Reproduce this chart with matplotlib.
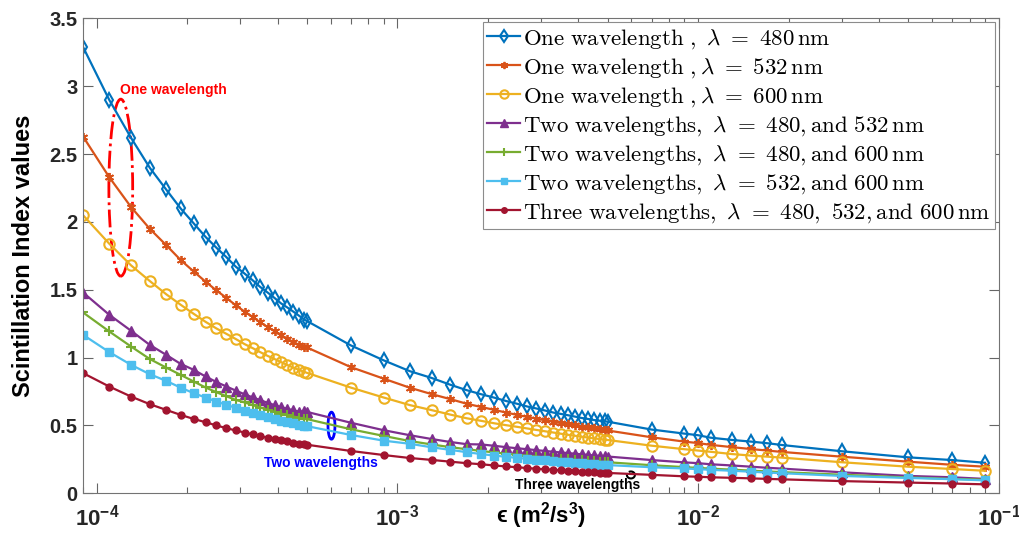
import numpy as np
import matplotlib.pyplot as plt
from matplotlib.patches import Ellipse, Arc

# dissipation rate epsilon (m^2/s^3)
eps = [9e-5, 1.1e-4, 1.3e-4, 1.5e-4, 1.7e-4, 1.9e-4, 2.1e-4, 2.3e-4, 2.5e-4, 2.7e-4,
       2.9e-4, 3.1e-4, 3.3e-4, 3.5e-4, 3.7e-4, 3.9e-4, 4.1e-4, 4.3e-4, 4.5e-4, 4.7e-4, 4.9e-4,
       5e-4, 7e-4, 9e-4, 1.1e-3, 1.3e-3, 1.5e-3, 1.7e-3, 1.9e-3, 2.1e-3, 2.3e-3,
       2.5e-3, 2.7e-3, 2.9e-3, 3.1e-3, 3.3e-3, 3.5e-3, 3.7e-3, 3.9e-3, 4.1e-3, 4.3e-3,
       4.5e-3, 4.7e-3, 4.9e-3,
       5e-3, 7e-3, 9e-3, 1e-2, 1.1e-2, 1.3e-2, 1.5e-2, 1.7e-2, 1.9e-2, 3e-2, 5e-2, 7e-2, 9e-2]

si_480 = [3.29, 2.90, 2.62, 2.40, 2.24, 2.10, 1.99, 1.89, 1.81, 1.74,
          1.67, 1.62, 1.57, 1.52, 1.48, 1.44, 1.40, 1.37, 1.34, 1.31, 1.28,
          1.27, 1.09, 0.98, 0.90, 0.85, 0.80, 0.76, 0.73, 0.705, 0.68,
          0.66, 0.64, 0.625, 0.61, 0.595, 0.585, 0.575, 0.565, 0.555, 0.548,
          0.54, 0.535, 0.53,
          0.528, 0.47, 0.44, 0.428, 0.41, 0.393, 0.381, 0.369, 0.356, 0.31, 0.265, 0.245, 0.225]

si_532 = [2.63, 2.33, 2.11, 1.95, 1.83, 1.72, 1.635, 1.56, 1.495, 1.44,
          1.385, 1.34, 1.30, 1.26, 1.225, 1.195, 1.165, 1.14, 1.115, 1.095, 1.08,
          1.075, 0.93, 0.845, 0.778, 0.731, 0.694, 0.66, 0.636, 0.615, 0.595,
          0.578, 0.563, 0.55, 0.538, 0.527, 0.517, 0.508, 0.50, 0.492, 0.485,
          0.478, 0.472, 0.466,
          0.463, 0.413, 0.381, 0.37, 0.357, 0.34, 0.326, 0.315, 0.305, 0.27, 0.233, 0.21, 0.196]

si_600 = [2.05, 1.84, 1.68, 1.565, 1.468, 1.39, 1.323, 1.264, 1.215, 1.175,
          1.137, 1.10, 1.07, 1.04, 1.013, 0.99, 0.967, 0.946, 0.927, 0.91, 0.895,
          0.888, 0.779, 0.706, 0.65, 0.613, 0.58, 0.553, 0.534, 0.516, 0.502,
          0.49, 0.478, 0.467, 0.457, 0.448, 0.439, 0.431, 0.424, 0.417, 0.411,
          0.405, 0.40, 0.395,
          0.393, 0.351, 0.325, 0.315, 0.306, 0.289, 0.278, 0.27, 0.263, 0.229, 0.196, 0.179, 0.166]

si_480_532 = [1.48, 1.316, 1.198, 1.094, 1.021, 0.954, 0.91, 0.861, 0.82, 0.787,
              0.757, 0.73, 0.707, 0.686, 0.667, 0.65, 0.635, 0.623, 0.612, 0.602, 0.605,
              0.60, 0.52, 0.465, 0.428, 0.40, 0.378, 0.362, 0.36, 0.35, 0.34,
              0.332, 0.325, 0.318, 0.312, 0.306, 0.301, 0.296, 0.292, 0.287, 0.283,
              0.279, 0.276, 0.273,
              0.271, 0.245, 0.228, 0.222, 0.214, 0.205, 0.196, 0.188, 0.182, 0.155, 0.128, 0.118, 0.106]

si_480_600 = [1.333, 1.193, 1.082, 0.99, 0.927, 0.873, 0.824, 0.78, 0.745, 0.715,
              0.688, 0.67, 0.65, 0.632, 0.616, 0.601, 0.588, 0.576, 0.566, 0.557, 0.55,
              0.547, 0.472, 0.423, 0.385, 0.36, 0.34, 0.325, 0.312, 0.301, 0.292,
              0.284, 0.277, 0.27, 0.264, 0.259, 0.254, 0.25, 0.246, 0.242, 0.239,
              0.236, 0.233, 0.23,
              0.229, 0.207, 0.193, 0.187, 0.182, 0.174, 0.167, 0.161, 0.156, 0.137, 0.117, 0.106, 0.10]

si_532_600 = [1.168, 1.041, 0.947, 0.878, 0.829, 0.779, 0.738, 0.706, 0.676, 0.652,
              0.63, 0.61, 0.592, 0.576, 0.561, 0.548, 0.536, 0.525, 0.515, 0.506, 0.499,
              0.495, 0.43, 0.388, 0.365, 0.339, 0.32, 0.303, 0.289, 0.278, 0.269,
              0.261, 0.254, 0.248, 0.242, 0.237, 0.232, 0.228, 0.224, 0.22, 0.217,
              0.214, 0.211, 0.209,
              0.208, 0.192, 0.183, 0.178, 0.173, 0.166, 0.159, 0.153, 0.148, 0.128, 0.113, 0.104, 0.095]

si_three = [0.886, 0.787, 0.713, 0.657, 0.615, 0.578, 0.548, 0.524, 0.50, 0.48,
            0.463, 0.448, 0.434, 0.421, 0.41, 0.399, 0.39, 0.382, 0.374, 0.367, 0.362,
            0.358, 0.312, 0.282, 0.26, 0.246, 0.233, 0.222, 0.214, 0.205, 0.198,
            0.192, 0.186, 0.181, 0.177, 0.173, 0.169, 0.166, 0.163, 0.16, 0.157,
            0.155, 0.153, 0.151,
            0.15, 0.136, 0.125, 0.122, 0.118, 0.114, 0.11, 0.106, 0.103, 0.09, 0.079, 0.072, 0.066]

labels = [r'$\mathrm{One\ wavelength\ ,\ }\lambda\ =\ 480\,\mathrm{nm}$',
          r'$\mathrm{One\ wavelength\ ,}\lambda\ =\ 532\,\mathrm{nm}$',
          r'$\mathrm{One\ wavelength\ ,}\lambda\ =\ 600\,\mathrm{nm}$',
          r'$\mathrm{Two\ wavelengths,\ }\lambda\ =\ 480,\mathrm{and\ }532\,\mathrm{nm}$',
          r'$\mathrm{Two\ wavelengths,\ }\lambda\ =\ 480,\mathrm{and\ }600\,\mathrm{nm}$',
          r'$\mathrm{Two\ wavelengths,\ }\lambda\ =\ 532,\mathrm{and\ }600\,\mathrm{nm}$',
          r'$\mathrm{Three\ wavelengths,\ }\lambda\ =\ 480,\ 532,\mathrm{and\ }600\,\mathrm{nm}$']

plt.rcParams['font.family'] = ['Liberation Sans', 'DejaVu Sans']
plt.rcParams['mathtext.fontset'] = 'custom'
plt.rcParams['mathtext.rm'] = 'Liberation Sans:bold'
plt.rcParams['mathtext.it'] = 'Liberation Sans:italic:bold'
plt.rcParams['mathtext.bf'] = 'Liberation Sans:bold'
plt.rcParams['mathtext.default'] = 'rm'

fig = plt.figure(figsize=(10.19, 5.33), dpi=100)
ax = fig.add_axes([0.0815, 0.0745, 0.8986, 0.8908])

lw = 1.6
ax.plot(eps, si_480, '-d', color='#0072BD', lw=lw, ms=7.5, mfc='none', mew=1.5, label=labels[0])
ax.plot(eps, si_532, '-', marker=(6, 2, 0), color='#D95319', lw=lw, ms=6.5, mew=1.3, label=labels[1])
ax.plot(eps, si_600, '-o', color='#EDB120', lw=lw, ms=7.5, mfc='none', mew=1.5, label=labels[2])
ax.plot(eps, si_480_532, '-^', color='#7E2F8E', lw=lw, ms=7.5, label=labels[3])
ax.plot(eps, si_480_600, '-+', color='#77AC30', lw=lw, ms=7, mew=1.5, label=labels[4])
ax.plot(eps, si_532_600, '-s', color='#4DBEEE', lw=lw, ms=6, label=labels[5])
ax.plot(eps, si_three, '-o', color='#A2142F', lw=lw, ms=5, label=labels[6])

ax.set_xscale('log')
ax.set_xlim(9e-5, 1e-1)
ax.set_ylim(0, 3.5)
ax.set_yticks([0, 0.5, 1, 1.5, 2, 2.5, 3, 3.5])
ax.set_yticklabels(['0', '0.5', '1', '1.5', '2', '2.5', '3', '3.5'], fontsize=14.5, fontweight='bold')
ax.set_xticks([1e-4, 1e-3, 1e-2, 1e-1])
ax.set_xticklabels([r'$10^{-4}$', r'$10^{-3}$', r'$10^{-2}$', r'$10^{-1}$'], fontsize=16)
ax.tick_params(which='both', direction='in', top=True, right=True, colors='0.4',
               labelcolor='#262626')
ax.tick_params(which='major', length=7, width=0.8, pad=8)
ax.tick_params(which='minor', length=4, width=0.8)
ax.tick_params(axis='y', pad=4)
for s in ax.spines.values():
    s.set_color('0.45')
    s.set_linewidth(0.8)

ax.set_ylabel('Scintillation Index values', fontsize=17, fontweight='bold')
ax.yaxis.set_label_coords(-0.053, 0.5)
ax.set_xlabel('ϵ (m$^2$/s$^3$)', fontsize=16, fontweight='bold', va='center')
ax.xaxis.set_label_coords(0.5, -0.046)

leg = ax.legend(loc='upper right', prop={'size': 16.5, 'math_fontfamily': 'cm'},
                borderaxespad=0.15, labelspacing=0.2, handlelength=1.45,
                handletextpad=0.12, borderpad=0.2, fancybox=False, framealpha=1,
                edgecolor='0.55', markerscale=0.8)
leg.get_frame().set_linewidth(0.8)

# annotations
ax.add_patch(Ellipse((0.0412, 0.6437), 0.026, 0.3728, transform=ax.transAxes,
                     fill=False, edgecolor='red', linestyle='-.', lw=2))
ax.text(0.0402, 0.849, 'One wavelength', transform=ax.transAxes, color='red',
        fontsize=10, fontweight='bold', va='center')
ax.add_patch(Ellipse((0.2713, 0.1424), 0.0076, 0.0569, transform=ax.transAxes,
                     fill=False, edgecolor='blue', lw=2))
ax.text(0.2599, 0.064, 'Two wavelengths', transform=ax.transAxes, color='blue',
        fontsize=10, fontweight='bold', ha='center', va='center')
ax.add_patch(Arc((0.5983, 0.0386), 0.0087, 0.0147, transform=ax.transAxes,
                 theta1=-200, theta2=110, edgecolor='black', lw=1.5))
ax.text(0.540, 0.0175, 'Three wavelengths', transform=ax.transAxes, color='black',
        fontsize=10, fontweight='bold', ha='center', va='center')

fig.savefig('out.png', dpi=100)
